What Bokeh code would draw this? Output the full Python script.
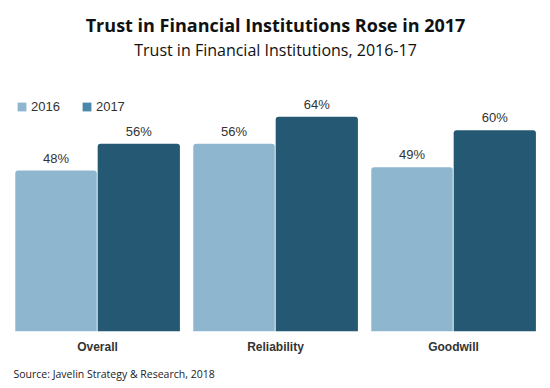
from bokeh.plotting import figure
from bokeh.models import ColumnDataSource, FactorRange, Range1d, Title, Legend, LegendItem
from bokeh.transform import dodge
from bokeh.core.properties import value
from bokeh.embed import file_html
from bokeh.resources import INLINE

categories = ["Overall", "Reliability", "Goodwill"]
series_2016 = [48, 56, 49]
series_2017 = [56, 64, 60]
series_names = ["2016", "2017"]

c16 = "#8eb7cf"
c17 = "#255873"
legend17 = "#4a88aa"
text_col = "#333333"

src = ColumnDataSource(dict(
    cat=categories,
    v16=series_2016,
    v17=series_2017,
    l16=[f"{v}%" for v in series_2016],
    l17=[f"{v}%" for v in series_2017],
))

p = figure(width=542, height=388, x_range=FactorRange(*categories, range_padding=0),
           y_range=Range1d(0, 80.8), output_backend="svg", toolbar_location=None,
           min_border_left=8, min_border_right=0, min_border_top=60, min_border_bottom=53,
           outline_line_color=None)

r16 = p.vbar(x=dodge("cat", -0.233, range=p.x_range), top="v16", width=0.458, bottom=0,
             source=src, fill_color=c16, line_color=None, border_radius=(3, 3, 0, 0))
r17 = p.vbar(x=dodge("cat", 0.232, range=p.x_range), top="v17", width=0.462, bottom=0,
             source=src, fill_color=c17, line_color=None, border_radius=(3, 3, 0, 0))

for col, lab, off in (("v16", "l16", -0.233), ("v17", "l17", 0.232)):
    p.text(x=dodge("cat", off, range=p.x_range), y=col, text=lab, source=src,
           y_offset=-5, text_align="center", text_baseline="bottom",
           text_font=value("Liberation Sans"), text_font_size="13px", text_color=text_col)

# legend swatches (zero-height bars, only used for the legend)
g16 = p.vbar(x=dodge("cat", -0.233, range=p.x_range), top=0, bottom=0, width=0.458,
             source=src, fill_color=c16, line_color=None)
g17 = p.vbar(x=dodge("cat", 0.232, range=p.x_range), top=0, bottom=0, width=0.462,
             source=src, fill_color=legend17, line_color=None)
legend = Legend(items=[LegendItem(label=series_names[0], renderers=[g16]),
                       LegendItem(label=series_names[1], renderers=[g17])],
                orientation="horizontal", location=(8, 217),
                background_fill_alpha=0, border_line_color=None,
                label_text_font="Liberation Sans", label_text_font_size="13px",
                label_text_color=text_col, glyph_width=11, glyph_height=11,
                label_standoff=4, spacing=21, padding=0, margin=0)
p.add_layout(legend)

p.grid.visible = False
p.yaxis.visible = False
p.xaxis.axis_line_color = None
p.xaxis.major_tick_line_color = None
p.xaxis.minor_tick_line_color = None
p.xaxis.major_label_text_font = "Liberation Sans"
p.xaxis.major_label_text_font_style = "bold"
p.xaxis.major_label_text_font_size = "12px"
p.xaxis.major_label_text_color = text_col
p.xaxis.major_label_standoff = 2

p.add_layout(Title(text="Source: Javelin Strategy & Research, 2018", align="left",
                   text_font="Open Sans", text_font_size="10.5px", text_font_style="normal",
                   text_color="#222222", offset=5, standoff=16), "below")
p.add_layout(Title(text="Trust in Financial Institutions, 2016-17", align="center",
                   text_font="Open Sans", text_font_size="16px", text_font_style="normal",
                   text_color="#111111", standoff=0), "above")
p.add_layout(Title(text="Trust in Financial Institutions Rose in 2017", align="center",
                   text_font="Open Sans", text_font_size="18px", text_font_style="bold",
                   text_color="#111111", standoff=0), "above")

open("out.html", "w").write(file_html(p, INLINE))
